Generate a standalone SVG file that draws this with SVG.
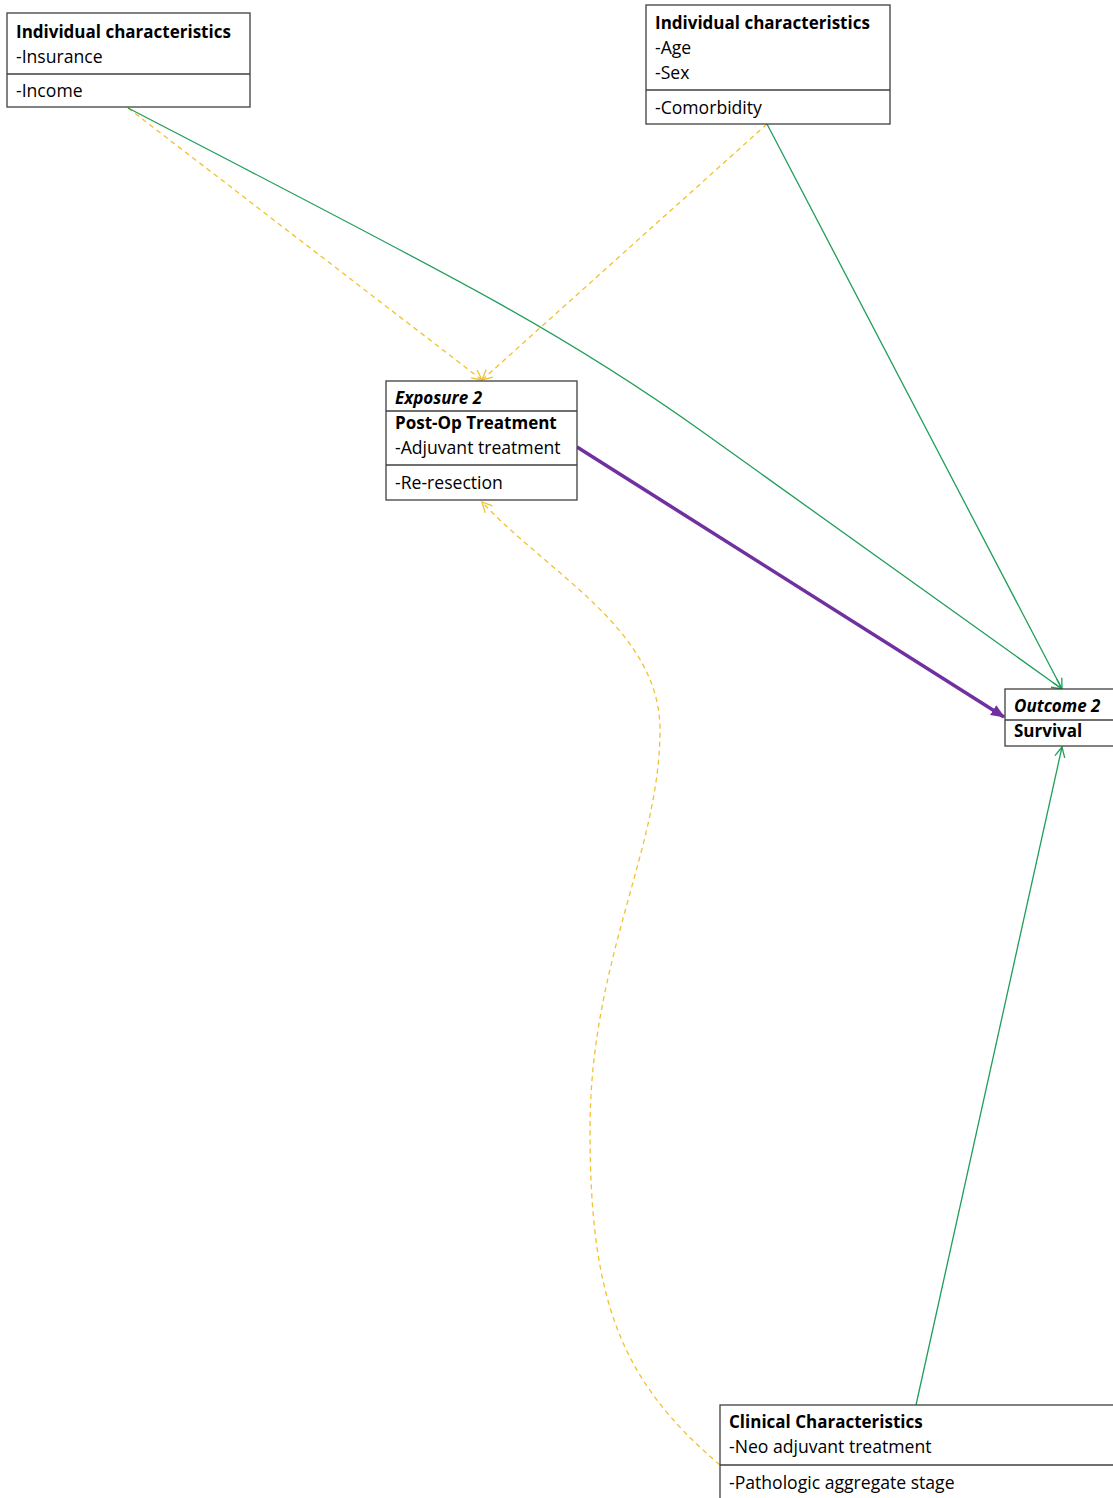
<svg xmlns="http://www.w3.org/2000/svg" width="1113" height="1498" viewBox="0 0 1113 1498">
  <style>
    .box { fill: #ffffff; stroke: #3f3f3f; stroke-width: 1.3; }
    .div { stroke: #3f3f3f; stroke-width: 1.3; }
    text { font-family: "Open Sans", Lato, "Liberation Sans", sans-serif; font-size: 17.6px; fill: #000000; }
    .b { font-weight: bold; font-size: 17px; }
    .bi { font-weight: bold; font-style: italic; font-size: 17px; }
    .green { fill: none; stroke: #1f9e5a; stroke-width: 1.3; marker-end: url(#arrGreen); }
    .yellow { fill: none; stroke: #f2c12e; stroke-width: 1.3; stroke-dasharray: 5 4; marker-end: url(#arrYellow); }
    .purple { fill: none; stroke: #7030a0; stroke-width: 3.5; marker-end: url(#arrPurple); }
  </style>
  <defs>
    <marker id="arrGreen" viewBox="0 0 12 12" refX="11" refY="6" markerWidth="12" markerHeight="12" markerUnits="userSpaceOnUse" orient="auto">
      <path d="M1,1 L11,6 L1,11" fill="none" stroke="#1f9e5a" stroke-width="1.3"/>
    </marker>
    <marker id="arrYellow" viewBox="0 0 12 12" refX="11" refY="6" markerWidth="12" markerHeight="12" markerUnits="userSpaceOnUse" orient="auto">
      <path d="M1,1 L11,6 L1,11" fill="none" stroke="#f2c12e" stroke-width="1.3"/>
    </marker>
    <marker id="arrPurple" viewBox="0 0 12 12" refX="11" refY="6" markerWidth="14" markerHeight="14" markerUnits="userSpaceOnUse" orient="auto">
      <path d="M0,1 L12,6 L0,11 Z" fill="#7030a0"/>
    </marker>
  </defs>

  <!-- connectors -->
  <g id="connectors">
    <line class="yellow" x1="128" y1="108" x2="482" y2="380"/>
    <line class="yellow" x1="767" y1="124" x2="482" y2="380"/>
    <path class="green" d="M128,108 C450,275 560,330 700,430 L1062,689"/>
    <line class="green" x1="767" y1="124" x2="1062" y2="689"/>
    <line class="purple" x1="577" y1="447" x2="1004" y2="717"/>
    <line class="green" x1="916" y1="1405" x2="1062" y2="747"/>
    <path class="yellow" d="M720,1465 C620,1380 590,1300 590,1130 C590,960 660,850 660,730 C660,630 550,575 482,502"/>
  </g>

  <!-- node: individual characteristics (insurance / income) -->
  <g id="node-individual-socio">
    <rect class="box" x="7" y="13" width="243" height="94"/>
    <line class="div" x1="7" y1="74" x2="250" y2="74"/>
    <text class="b" x="16" y="38">Individual characteristics</text>
    <text x="16" y="63">-Insurance</text>
    <text x="16" y="97">-Income</text>
  </g>

  <!-- node: individual characteristics (age / sex / comorbidity) -->
  <g id="node-individual-demo">
    <rect class="box" x="646" y="5" width="244" height="119"/>
    <line class="div" x1="646" y1="90" x2="890" y2="90"/>
    <text class="b" x="655" y="29">Individual characteristics</text>
    <text x="655" y="54">-Age</text>
    <text x="655" y="79">-Sex</text>
    <text x="655" y="114">-Comorbidity</text>
  </g>

  <!-- node: exposure -->
  <g id="node-exposure">
    <rect class="box" x="386" y="381" width="191" height="119"/>
    <line class="div" x1="386" y1="411" x2="577" y2="411"/>
    <line class="div" x1="386" y1="465" x2="577" y2="465"/>
    <text class="bi" x="395" y="404">Exposure 2</text>
    <text class="b" x="395" y="429">Post-Op Treatment</text>
    <text x="395" y="454">-Adjuvant treatment</text>
    <text x="395" y="489">-Re-resection</text>
  </g>

  <!-- node: outcome -->
  <g id="node-outcome">
    <rect class="box" x="1005" y="689" width="110" height="57"/>
    <line class="div" x1="1005" y1="720" x2="1113" y2="720"/>
    <text class="bi" x="1014" y="712">Outcome 2</text>
    <text class="b" x="1014" y="737">Survival</text>
  </g>

  <!-- node: clinical characteristics -->
  <g id="node-clinical">
    <rect class="box" x="720" y="1405" width="395" height="96"/>
    <line class="div" x1="720" y1="1465" x2="1113" y2="1465"/>
    <text class="b" x="729" y="1428">Clinical Characteristics</text>
    <text x="729" y="1453">-Neo adjuvant treatment</text>
    <text x="729" y="1489">-Pathologic aggregate stage</text>
  </g>
</svg>
